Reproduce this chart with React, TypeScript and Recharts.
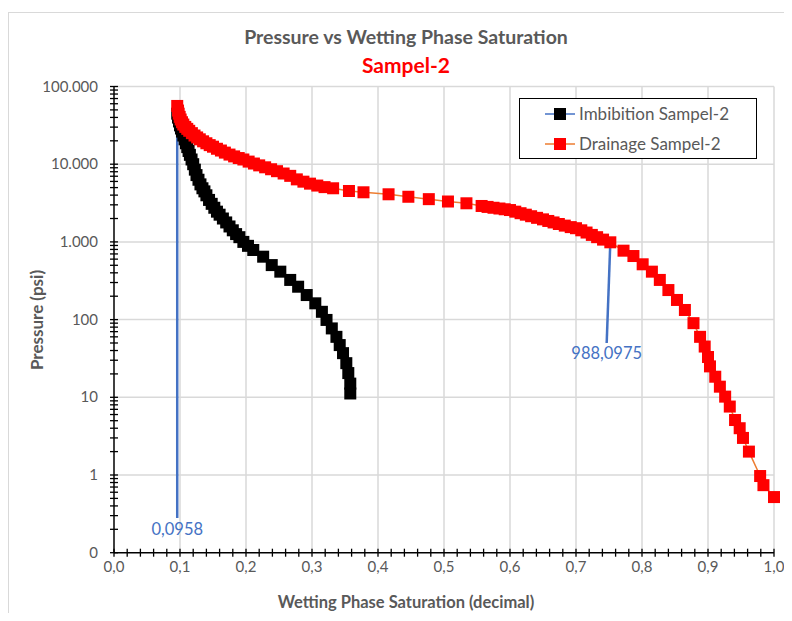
import React from 'react';
import { ScatterChart, Scatter, XAxis, YAxis, ReferenceLine, ReferenceDot, Legend } from 'recharts';

// Imbibition curve (Sw decimal, pressure psi)
const imbSw = [
  0.0958, 0.097, 0.0985, 0.1, 0.1015, 0.103, 0.105, 0.107, 0.109, 0.111, 0.113, 0.115, 0.1175, 0.12,
  0.1225, 0.125, 0.128, 0.131, 0.134, 0.137, 0.14, 0.144, 0.148, 0.152, 0.156, 0.16, 0.165, 0.17,
  0.175, 0.18, 0.185, 0.19, 0.196, 0.203, 0.211, 0.226, 0.239, 0.252, 0.267, 0.279, 0.292, 0.305,
  0.315, 0.322, 0.33, 0.337, 0.342, 0.347, 0.352, 0.355, 0.358, 0.358,
];
const imbPc = [
  44700, 39800, 35500, 31600, 28800, 26300, 23400, 20900, 18600, 16600, 14800, 13200, 11500, 10000,
  8510, 7240, 6310, 5500, 4900, 4470, 3980, 3470, 3090, 2750, 2450, 2240, 2000, 1780,
  1580, 1410, 1260, 1150, 1000, 890, 787, 645, 503, 414, 324, 265, 207, 162,
  126, 99, 77, 60, 47, 37, 27.5, 20.5, 15, 11.2,
];

// Drainage curve (Sw decimal, pressure psi)
const drnSw = [
  0.0958, 0.097, 0.098, 0.0995, 0.101, 0.103, 0.105, 0.108, 0.111, 0.114, 0.118, 0.122, 0.126, 0.13,
  0.135, 0.14, 0.145, 0.15, 0.156, 0.162, 0.168, 0.175, 0.182, 0.189, 0.196, 0.204, 0.212, 0.22,
  0.229, 0.238, 0.247, 0.257, 0.267, 0.277, 0.287, 0.297, 0.308, 0.319, 0.332, 0.356, 0.378, 0.416,
  0.446, 0.477, 0.506, 0.534, 0.557, 0.566, 0.575, 0.584, 0.592, 0.6, 0.608, 0.616, 0.624, 0.632,
  0.641, 0.65, 0.658, 0.666, 0.674, 0.683, 0.692, 0.7, 0.708, 0.716, 0.724, 0.732, 0.741, 0.752,
  0.772, 0.787, 0.801, 0.815, 0.827, 0.84, 0.853, 0.865, 0.878, 0.888, 0.895, 0.9, 0.903, 0.911,
  0.918, 0.926, 0.933, 0.941, 0.948, 0.953, 0.962, 0.979, 0.984, 1.0,
];
const drnPc = [
  56200, 49000, 44700, 40700, 37600, 34700, 32400, 30200, 28500, 26900, 25100, 23400, 22100, 20900,
  19700, 18600, 17600, 16800, 15800, 15000, 14100, 13300, 12600, 12000, 11500, 10800, 10200, 9660,
  9120, 8610, 8130, 7590, 7080, 6380, 5960, 5620, 5310, 5070, 4900, 4520, 4350, 4100,
  3810, 3550, 3310, 3140, 2900, 2820, 2750, 2690, 2630, 2570, 2450, 2340, 2240, 2140,
  2040, 1950, 1860, 1780, 1700, 1620, 1550, 1500, 1410, 1320, 1230, 1150, 1070, 988.0975,
  771, 658, 515, 414, 324, 240, 179, 133, 90, 60, 45, 33, 25, 18.4,
  13.7, 10.2, 7.6, 5.1, 4.0, 3.0, 2.0, 0.97, 0.74, 0.52,
];

const xMajor = [0, 0.1, 0.2, 0.3, 0.4, 0.5, 0.6, 0.7, 0.8, 0.9, 1.0];
const yMajor = [0.1, 1, 10, 100, 1000, 10000, 100000];

const xTicks = xMajor.flatMap((v, i) =>
  i < xMajor.length - 1 ? [0, 1, 2, 3, 4].map((k) => +(v + k * 0.02).toFixed(2)) : [v]
);
const yTicks = yMajor.flatMap((v, i) =>
  i < yMajor.length - 1 ? [1, 2, 3, 4, 5, 6, 7, 8, 9].map((k) => +(v * k).toPrecision(3)) : [v]
);

const imbData = imbSw.map((x, i) => ({ x, y: imbPc[i] }));
const drnData = drnSw.map((x, i) => ({ x, y: drnPc[i] }));

const GRAY = '#595959';
const GRID = '#d9d9d9';

const fmtX = (v: number) => v.toFixed(1).replace('.', ',');
const fmtY = (v: number) =>
  v < 1 ? '0' : String(Math.round(v)).replace(/\B(?=(\d{3})+(?!\d))/g, '.');

const XTick = ({ x, y, payload }: any) => {
  const v = payload.value;
  const major = xMajor.some((m) => Math.abs(m - v) < 1e-6);
  return (
    <g>
      <line x1={x} x2={x} y1={y - 4} y2={y + 4} stroke="#000" strokeWidth={1.3} />
      {major && (
        <text x={x} y={y + 19} textAnchor="middle" fill={GRAY} fontSize={15}>
          {fmtX(v)}
        </text>
      )}
    </g>
  );
};

const YTick = ({ x, y, payload }: any) => {
  const v = payload.value;
  const major = yMajor.some((m) => Math.abs(m - v) / m < 1e-6);
  return (
    <g>
      <line x1={x - 4} x2={x + 4} y1={y} y2={y} stroke="#000" strokeWidth={1.3} />
      {major && (
        <text x={x - 16} y={y + 5} textAnchor="end" fill={GRAY} fontSize={15}>
          {fmtY(v)}
        </text>
      )}
    </g>
  );
};

const square = (color: string) => (props: any) => {
  const { cx, cy } = props;
  if (cx == null || cy == null) return <g />;
  return <rect x={cx - 6} y={cy - 6} width={12} height={12} fill={color} />;
};

const LegendBox = () => (
  <div
    style={{
      width: 236,
      height: 59,
      border: '1.5px solid #000',
      background: '#fff',
      position: 'relative',
      fontSize: 17,
      color: GRAY,
    }}
  >
    {[
      { name: 'Imbibition Sampel-2', line: '#4472C4', fill: '#000' },
      { name: 'Drainage Sampel-2', line: '#ED7D31', fill: '#ff0000' },
    ].map((e, i) => (
      <div key={e.name} style={{ position: 'absolute', left: 0, top: 5 + i * 30, height: 20, width: '100%' }}>
        <svg width={32} height={20} style={{ position: 'absolute', left: 24, top: 0 }}>
          <line x1={1} x2={31} y1={10} y2={10} stroke={e.line} strokeWidth={1.5} />
          <rect x={10} y={4} width={12} height={12} fill={e.fill} />
        </svg>
        <span style={{ position: 'absolute', left: 59, top: 0, lineHeight: '20px', whiteSpace: 'nowrap' }}>
          {e.name}
        </span>
      </div>
    ))}
  </div>
);

export default function App() {
  return (
    <div
      style={{
        position: 'relative',
        width: 784,
        height: 605,
        overflow: 'hidden',
        fontFamily: 'Lato, "Open Sans", sans-serif',
      }}
    >
      <div
        style={{
          position: 'absolute',
          left: 0,
          top: 4,
          width: 900,
          height: 900,
          border: `1px solid ${GRID}`,
        }}
      />
      <div
        style={{
          position: 'absolute',
          left: 0,
          width: 796,
          top: 17,
          textAlign: 'center',
          fontSize: 19.5,
          fontWeight: 700,
          color: GRAY,
        }}
      >
        Pressure vs Wetting Phase Saturation
      </div>
      <div
        style={{
          position: 'absolute',
          left: 0,
          width: 796,
          top: 44,
          textAlign: 'center',
          fontSize: 21,
          fontWeight: 700,
          color: '#ff0000',
        }}
      >
        Sampel-2
      </div>
      <div
        style={{
          position: 'absolute',
          left: 28,
          top: 312,
          transform: 'translate(-50%, -50%) rotate(-90deg)',
          fontSize: 17,
          fontWeight: 700,
          color: GRAY,
          whiteSpace: 'nowrap',
        }}
      >
        Pressure (psi)
      </div>
      <div
        style={{
          position: 'absolute',
          left: 0,
          width: 796,
          top: 584,
          textAlign: 'center',
          fontSize: 16.5,
          fontWeight: 700,
          color: GRAY,
        }}
      >
        Wetting Phase Saturation (decimal)
      </div>
      <div style={{ position: 'absolute', left: 0, top: 0 }}>
        <ScatterChart width={784} height={605} margin={{ top: 78.5, right: 18, bottom: 30.3, left: 46 }}>
          <XAxis
            type="number"
            dataKey="x"
            domain={[0, 1]}
            ticks={xTicks}
            interval={0}
            tickSize={0}
            tickMargin={0}
            tick={<XTick />}
            axisLine={{ stroke: '#000', strokeWidth: 1.5 }}
            tickLine={false}
            height={30}
          />
          <YAxis
            type="number"
            dataKey="y"
            scale="log"
            domain={[0.1, 100000]}
            allowDataOverflow
            ticks={yTicks}
            interval={0}
            tickSize={0}
            tickMargin={0}
            tick={<YTick />}
            axisLine={{ stroke: '#000', strokeWidth: 1.5 }}
            tickLine={false}
            width={60}
          />
          {xMajor.slice(1).map((v) => (
            <ReferenceLine key={'gx' + v} x={v} stroke={GRID} strokeWidth={1.5} />
          ))}
          {yMajor.slice(1).map((v) => (
            <ReferenceLine key={'gy' + v} y={v} stroke={GRID} strokeWidth={1.5} />
          ))}
          <Legend
            layout="vertical"
            align="center"
            verticalAlign="middle"
            wrapperStyle={{ top: 90, left: 511, width: 240 }}
            content={<LegendBox />}
          />
          <Scatter
            name="Imbibition Sampel-2"
            data={imbData}
            fill="#000"
            line={{ stroke: '#4472C4', strokeWidth: 1.5 }}
            shape={square('#000')}
            isAnimationActive={false}
          />
          <Scatter
            name="Drainage Sampel-2"
            data={drnData}
            fill="#ff0000"
            line={{ stroke: '#ED7D31', strokeWidth: 1.5 }}
            shape={square('#ff0000')}
            isAnimationActive={false}
          />
          <ReferenceLine
            segment={[{ x: 0.0958, y: 56200 }, { x: 0.0958, y: 0.28 }]}
            stroke="#4472C4"
            strokeWidth={2.5}
          />
          <ReferenceLine
            segment={[{ x: 0.752, y: 988.0975 }, { x: 0.7465, y: 50 }]}
            stroke="#4472C4"
            strokeWidth={2.5}
          />
          <ReferenceDot
            x={0.0958}
            y={0.28}
            r={0}
            fill="none"
            stroke="none"
            label={{ value: '0,0958', position: 'bottom', offset: 5, fill: '#4472C4', fontSize: 16.5 }}
          />
          <ReferenceDot
            x={0.7465}
            y={50}
            r={0}
            fill="none"
            stroke="none"
            label={{ value: '988,0975', position: 'bottom', offset: 4, fill: '#4472C4', fontSize: 16.5 }}
          />
        </ScatterChart>
      </div>
    </div>
  );
}
